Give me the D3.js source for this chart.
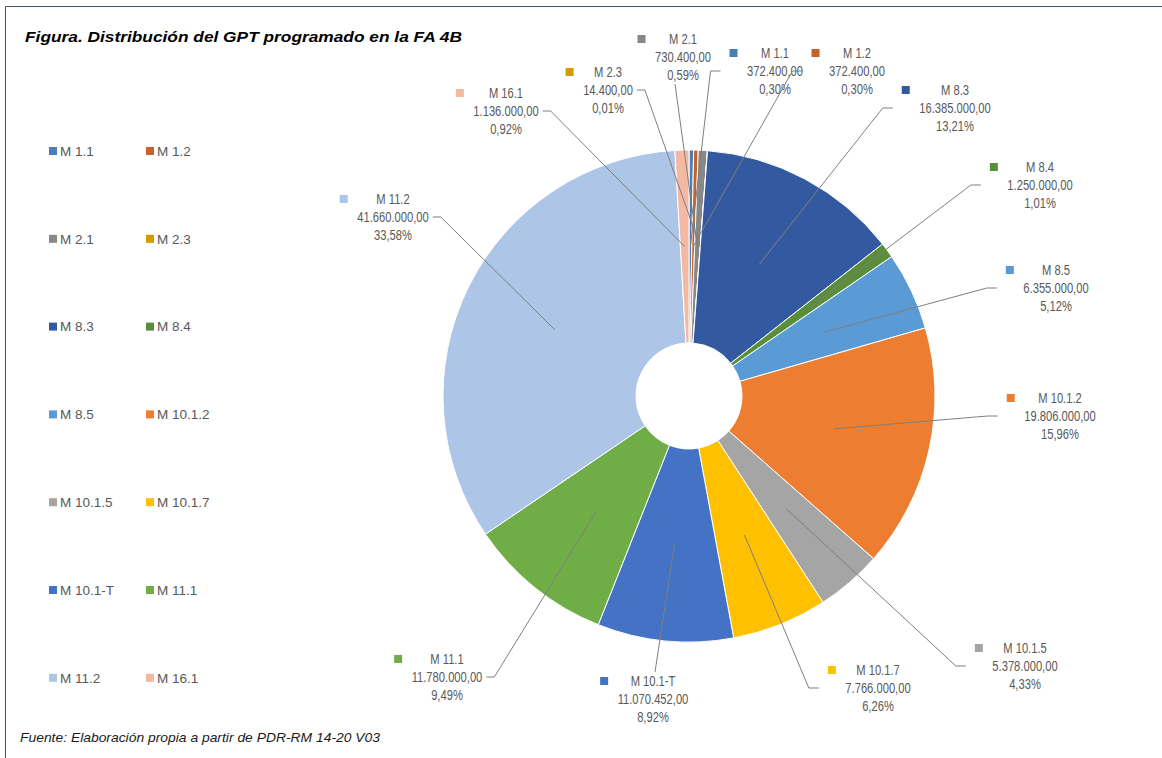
<!DOCTYPE html>
<html>
<head>
<meta charset="utf-8">
<script src="https://cdn.jsdelivr.net/npm/d3@7"></script>
<style>
  html, body { margin: 0; padding: 0; background: #fff; }
  svg { display: block; }
</style>
</head>
<body>
<svg id="chart" width="1162" height="758"></svg>
<script>
// ---- DATA ----
const categories = ["M 1.1", "M 1.2", "M 2.1", "M 2.3", "M 8.3", "M 8.4", "M 8.5",
  "M 10.1.2", "M 10.1.5", "M 10.1.7", "M 10.1-T", "M 11.1", "M 11.2", "M 16.1"];
const values = [372400, 372400, 730400, 14400, 16385000, 1250000, 6355000,
  19806000, 5378000, 7766000, 11070452, 11780000, 41660000, 1136000];
const valueLabels = ["372.400,00", "372.400,00", "730.400,00", "14.400,00", "16.385.000,00",
  "1.250.000,00", "6.355.000,00", "19.806.000,00", "5.378.000,00", "7.766.000,00",
  "11.070.452,00", "11.780.000,00", "41.660.000,00", "1.136.000,00"];
const titleText = "Figura. Distribución del GPT programado en la FA 4B";
const sourceText = "Fuente: Elaboración propia a partir de PDR-RM 14-20 V03";

// ---- STYLE / LAYOUT ----
const colors = ["#4a7ebb", "#c6622a", "#888888", "#d09e00", "#335aa0", "#5b8e3a", "#5b9bd5",
  "#ed7d31", "#a5a5a5", "#ffc000", "#4472c4", "#70ad47", "#adc5e7", "#f4b9a3"];
// label placement: [center x, name-line y, leader side]
const labelLayout = [
  [775, 53, "L"], [857, 53, "L"], [683, 39, "B"], [608, 72, "R"],
  [955, 90, "L"], [1040, 167, "L"], [1056, 270, "L"], [1060, 398, "L"],
  [1025, 648, "L"], [878, 670, "L"], [653, 681, "T"], [447, 659, "R"],
  [393, 199, "R"], [506, 93, "R"]
];
const cx = 689, cy = 396, R = 246, r0 = 53;
const labelFont = "'Liberation Sans', Arial, sans-serif";
const narrow = 0.8;
const lineGap = 18;

const svg = d3.select("#chart");

// frame
svg.append("line").attr("x1", 5.5).attr("y1", 6.5).attr("x2", 1162).attr("y2", 6.5)
  .attr("stroke", "#44546a").attr("stroke-width", 1);
svg.append("line").attr("x1", 5.5).attr("y1", 6.5).attr("x2", 5.5).attr("y2", 758)
  .attr("stroke", "#44546a").attr("stroke-width", 1);

// title
svg.append("text").attr("x", 25).attr("y", 42)
  .attr("font-family", "'Liberation Sans', Arial, sans-serif")
  .attr("font-size", 15.5).attr("font-weight", "bold").attr("font-style", "italic")
  .attr("fill", "#000")
  .attr("textLength", 437).attr("lengthAdjust", "spacingAndGlyphs")
  .text(titleText);

// source
svg.append("text").attr("x", 20).attr("y", 742)
  .attr("font-family", labelFont)
  .attr("font-size", 13.5).attr("font-style", "italic")
  .attr("fill", "#1a1a1a")
  .attr("textLength", 360).attr("lengthAdjust", "spacingAndGlyphs")
  .text(sourceText);

// pie
const data = categories.map((c, i) => ({ name: c, value: values[i], i }));
const total = d3.sum(values);
const pie = d3.pie().value(d => d.value).sort(null);
const arcs = pie(data);
const arc = d3.arc().innerRadius(r0).outerRadius(R);

const g = svg.append("g").attr("transform", `translate(${cx},${cy})`);
g.selectAll("path.slice").data(arcs).enter().append("path")
  .attr("class", "slice")
  .attr("d", arc)
  .attr("fill", d => colors[d.data.i])
  .attr("stroke", "#fff").attr("stroke-width", 1);

// labels
const fmtPct = v => (v * 100).toFixed(2).replace(".", ",") + "%";
const labG = svg.append("g");
arcs.forEach(a => {
  const i = a.data.i;
  const [lx, ly, side] = labelLayout[i];
  const tg = labG.append("g").attr("transform", `translate(${lx},${ly}) scale(${narrow},1)`);
  const t = tg.append("text")
    .attr("font-family", labelFont).attr("font-size", 14)
    .attr("fill", "#595959").attr("text-anchor", "middle");
  const lines = [categories[i], valueLabels[i], fmtPct(values[i] / total)];
  const tspans = lines.map((s, k) => t.append("tspan")
    .attr("x", 0).attr("y", k * lineGap).attr("dy", "0.35em").text(s));
  const vw = tspans[1].node().getComputedTextLength() * narrow;
  const left = lx - vw / 2, right = lx + vw / 2;
  // legend key square
  const sqR = left - 9.5, sqS = 8;
  labG.append("rect").attr("x", sqR - sqS).attr("y", ly - sqS / 2)
    .attr("width", sqS).attr("height", sqS).attr("fill", colors[i]);
  // leader line
  const [ex, ey] = arc.centroid(a);
  const tx = cx + ex, ty = cy + ey;
  let pts;
  const vy = ly + lineGap;
  if (side === "L") {
    const s0 = sqR - sqS - 9;
    pts = [[s0, vy], [s0 - 10, vy], [tx, ty]];
  } else if (side === "R") {
    pts = [[right + 4, vy], [right + 12, vy], [tx, ty]];
  } else if (side === "B") {
    pts = [[lx - 8, ly + 2 * lineGap + 9], [tx, ty]];
  } else {
    pts = [[lx + 2, ly - 9], [tx, ty]];
  }
  labG.append("path").attr("d", d3.line()(pts))
    .attr("fill", "none").attr("stroke", "#7f7f7f").attr("stroke-width", 1);
});

// legend
const legend = svg.append("g");
categories.forEach((c, i) => {
  const col = i % 2, row = Math.floor(i / 2);
  const x = 49 + col * 97, y = 151 + row * 87.8;
  legend.append("rect").attr("x", x).attr("y", y - 4).attr("width", 8).attr("height", 8)
    .attr("fill", colors[i]);
  legend.append("text").attr("x", x + 11).attr("y", y).attr("dy", "0.35em")
    .attr("font-family", "'Liberation Sans', Arial, sans-serif").attr("font-size", 13.5)
    .attr("fill", "#595959").text(c);
});
</script>
</body>
</html>
